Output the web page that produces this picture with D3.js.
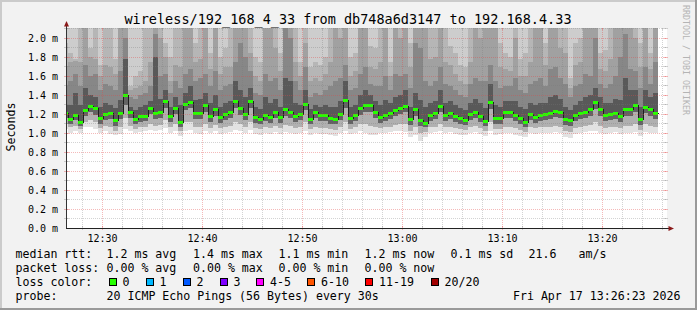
<!DOCTYPE html>
<html>
<head>
<meta charset="utf-8">
<title>wireless/192_168_4_33</title>
<script src="https://cdn.jsdelivr.net/npm/d3@7"></script>
<style>
  html, body { margin: 0; padding: 0; background: #f0f0f0; }
  svg { display: block; font-family: "DejaVu Sans Mono", monospace; }
</style>
</head>
<body>
<svg id="chart" width="697" height="310"></svg>
<script>
// ---- data (ms), one value per 30 s step, first step starts 12:26:00 ----
const median = [
  1.21,1.15,1.19,1.12,1.24,1.29,1.26,1.16,1.20,1.21,
  1.14,1.21,1.40,1.22,1.15,1.18,1.18,1.26,1.21,1.22,
  1.34,1.18,1.27,1.12,1.31,1.33,1.21,1.21,1.30,1.18,
  1.25,1.17,1.20,1.22,1.34,1.26,1.20,1.34,1.17,1.15,
  1.19,1.17,1.22,1.17,1.25,1.22,1.18,1.20,1.31,1.15,
  1.22,1.19,1.19,1.16,1.15,1.20,1.35,1.16,1.19,1.26,
  1.30,1.30,1.22,1.17,1.19,1.21,1.24,1.27,1.29,1.15,
  1.25,1.14,1.11,1.19,1.21,1.29,1.19,1.21,1.18,1.16,
  1.14,1.20,1.22,1.18,1.13,1.33,1.16,1.16,1.22,1.22,
  1.19,1.16,1.12,1.20,1.17,1.19,1.20,1.21,1.23,1.22,
  1.15,1.14,1.19,1.21,1.22,1.25,1.33,1.25,1.19,1.20,
  1.21,1.18,1.25,1.25,1.30,1.15,1.28,1.25,1.21
];
// upper edges of the smoke bands, outer (light) to inner (dark)
const smokeHiLight = [
  1.95,1.85,1.78,2.2,2.2,1.90,2.2,1.72,2.2,2.2,
  1.78,2.2,2.2,1.50,1.60,1.65,2.2,2.2,2.2,2.2,
  1.95,1.80,2.2,2.2,2.2,2.2,1.95,2.2,2.2,1.85,
  2.2,1.80,1.90,2.2,2.2,2.2,2.2,2.2,1.80,1.75,
  2.2,2.2,2.2,1.85,2.2,2.2,2.2,1.75,2.2,1.70,
  1.75,1.72,1.80,2.2,2.2,2.2,2.2,1.80,1.85,2.2,
  2.2,1.92,1.90,2.2,2.2,1.75,2.2,2.2,2.2,1.95,
  2.2,2.2,2.2,2.2,2.2,2.2,2.2,1.92,1.85,1.72,
  1.70,2.2,2.2,2.2,2.2,2.2,2.2,1.95,1.85,1.80,
  2.2,1.78,1.85,2.2,2.2,2.2,1.95,2.2,2.2,2.2,
  2.2,1.58,1.95,2.0,2.2,2.2,2.2,1.85,1.88,2.2,
  2.2,2.2,2.2,2.2,2.2,1.95,2.2,1.85,2.2
];
const smokeHiMid = [
  1.70,1.75,1.76,1.75,2.2,1.80,1.78,1.60,1.72,1.70,
  1.62,2.2,2.2,1.45,1.48,1.50,1.55,1.75,2.2,2.0,
  1.80,1.55,1.72,1.70,2.2,2.2,1.75,1.78,2.2,1.68,
  2.2,1.62,1.70,1.70,2.2,2.2,2.2,1.85,1.60,1.55,
  2.2,2.2,1.90,1.65,2.2,2.2,1.75,1.60,1.95,1.55,
  1.58,1.55,1.62,1.75,2.2,2.0,2.2,1.60,1.65,2.2,
  2.2,1.70,1.68,1.75,2.2,1.60,2.2,2.0,2.2,1.70,
  2.2,2.2,2.2,1.78,1.80,2.2,1.75,1.72,1.62,1.55,
  1.52,1.75,2.2,2.0,2.2,2.2,2.2,1.70,1.68,1.65,
  2.0,1.60,1.60,1.75,2.2,2.2,1.72,2.2,2.2,1.90,
  1.85,1.48,1.72,1.75,2.2,2.2,2.2,1.68,1.65,1.78,
  2.2,2.2,2.2,2.2,2.0,1.70,2.2,1.68,2.2
];
const smokeHiDark = [
  1.50,1.55,1.62,1.50,1.72,1.60,1.62,1.45,1.52,1.50,
  1.45,1.65,2.0,1.38,1.36,1.40,1.42,1.50,2.05,1.60,
  1.62,1.42,1.55,1.48,1.62,1.68,1.55,1.58,1.62,1.50,
  1.65,1.45,1.50,1.52,1.75,1.95,1.80,1.65,1.42,1.40,
  1.62,1.55,1.58,1.45,2.2,2.0,1.55,1.45,1.70,1.38,
  1.42,1.40,1.45,1.50,1.55,1.58,1.72,1.45,1.48,1.62,
  1.70,1.52,1.50,1.50,1.60,1.45,1.62,1.60,1.62,1.48,
  1.95,1.90,1.55,1.50,1.55,1.70,1.52,1.50,1.45,1.40,
  1.38,1.52,1.58,1.55,1.55,1.72,1.55,1.48,1.50,1.50,
  1.58,1.45,1.42,1.52,1.55,1.58,1.50,1.68,1.70,1.58,
  1.52,1.38,1.50,1.52,1.62,1.60,2.0,1.52,1.48,1.52,
  1.60,1.80,2.05,1.68,1.65,1.48,1.70,1.52,1.75
];
const smokeHiCore = [
  1.30,1.30,1.42,1.30,1.48,1.40,1.38,1.28,1.32,1.30,
  1.26,1.35,1.78,1.28,1.24,1.28,1.30,1.34,1.80,1.36,
  1.45,1.28,1.38,1.30,1.42,1.50,1.35,1.36,1.42,1.32,
  1.40,1.28,1.32,1.34,1.55,1.45,1.38,1.48,1.28,1.25,
  1.38,1.32,1.36,1.28,1.58,1.55,1.32,1.30,1.45,1.25,
  1.30,1.28,1.30,1.28,1.28,1.34,1.55,1.28,1.30,1.40,
  1.45,1.40,1.34,1.30,1.35,1.32,1.38,1.40,1.45,1.28,
  1.42,1.35,1.28,1.32,1.34,1.45,1.32,1.34,1.30,1.26,
  1.24,1.32,1.36,1.32,1.26,1.52,1.30,1.28,1.34,1.34,
  1.34,1.28,1.25,1.32,1.30,1.32,1.32,1.38,1.40,1.36,
  1.28,1.24,1.30,1.34,1.38,1.40,1.48,1.38,1.32,1.32,
  1.36,1.35,1.58,1.45,1.45,1.28,1.45,1.38,1.42
];
// lower edges of the smoke bands, inner (dark) to outer (light)
const smokeLoCore = [
  1.16,1.10,1.14,1.08,1.18,1.22,1.19,1.10,1.14,1.15,
  1.08,1.15,1.30,1.16,1.10,1.12,1.13,1.20,1.15,1.16,
  1.26,1.12,1.20,1.07,1.24,1.26,1.15,1.15,1.22,1.12,
  1.18,1.11,1.14,1.16,1.26,1.19,1.14,1.26,1.11,1.10,
  1.13,1.11,1.16,1.11,1.18,1.16,1.12,1.14,1.24,1.10,
  1.16,1.13,1.13,1.10,1.10,1.14,1.27,1.10,1.13,1.19,
  1.22,1.22,1.16,1.11,1.13,1.15,1.18,1.20,1.22,1.09,
  1.18,1.08,1.06,1.13,1.15,1.22,1.13,1.15,1.12,1.10,
  1.09,1.14,1.16,1.12,1.08,1.25,1.10,1.10,1.16,1.16,
  1.13,1.10,1.07,1.14,1.11,1.13,1.14,1.15,1.17,1.16,
  1.09,1.08,1.13,1.15,1.16,1.18,1.25,1.18,1.13,1.14,
  1.15,1.12,1.18,1.18,1.22,1.09,1.21,1.18,1.15
];
const smokeLoMid = [
  1.10,1.06,1.08,1.04,1.12,1.14,1.12,1.05,1.08,1.06,
  1.02,1.06,1.16,1.08,1.04,1.06,1.07,1.10,1.08,1.09,
  1.14,1.06,1.10,1.02,1.12,1.12,1.07,1.06,1.10,1.05,
  1.09,1.05,1.06,1.08,1.12,1.10,1.07,1.12,1.05,1.04,
  1.06,1.05,1.08,1.05,1.09,1.08,1.05,1.06,1.12,1.04,
  1.07,1.05,1.05,1.04,1.03,1.06,1.12,1.04,1.06,1.10,
  1.10,1.08,1.06,1.05,1.06,1.07,1.09,1.10,1.10,1.02,
  1.06,1.00,1.01,1.06,1.07,1.10,1.06,1.07,1.05,1.04,
  1.03,1.06,1.08,1.05,1.02,1.12,1.04,1.04,1.07,1.07,
  1.05,1.03,1.01,1.06,1.05,1.06,1.06,1.07,1.08,1.07,
  1.02,1.01,1.05,1.07,1.08,1.09,1.12,1.08,1.05,1.06,
  1.07,1.05,1.08,1.08,1.10,1.03,1.10,1.08,1.07
];
const smokeLo = [
  1.04,1.00,1.02,1.00,1.06,1.06,1.04,1.00,1.02,0.99,
  0.98,0.99,1.04,1.02,1.00,1.01,1.02,1.03,1.02,1.03,
  1.05,1.00,1.02,0.97,1.02,1.03,1.00,0.99,1.02,1.00,
  1.02,0.99,1.00,1.01,1.03,1.02,1.00,1.03,0.99,0.98,
  1.00,0.99,1.01,0.99,1.01,1.00,0.99,1.00,1.02,0.98,
  1.00,0.99,0.99,0.98,0.97,1.00,1.02,0.99,1.00,1.02,
  1.00,0.98,0.98,1.00,1.00,1.01,1.02,1.02,1.01,0.96,
  0.98,0.92,0.96,1.00,1.01,1.02,1.00,1.01,0.99,0.98,
  0.98,1.00,1.01,0.99,0.97,1.02,0.98,0.99,1.00,1.00,
  0.98,0.97,0.96,1.00,0.99,1.00,1.00,1.00,1.01,1.00,
  0.96,0.95,0.99,1.00,1.01,1.02,1.02,1.00,0.99,1.00,
  1.01,0.99,1.00,1.00,1.01,0.97,1.01,1.00,1.00
];

const yTickValues = [0, 0.2, 0.4, 0.6, 0.8, 1.0, 1.2, 1.4, 1.6, 1.8, 2.0];
const lossLabels = ['0', '1', '2', '3', '4-5', '6-10', '11-19', '20/20'];
const lossColors = ['#26ff00', '#00b8ff', '#0059ff', '#7e00ff', '#ff00ff', '#ff5500', '#ff0000', '#a10000'];
const rttStats = ['1.2 ms avg', '1.4 ms max', '1.1 ms min', '1.2 ms now', '0.1 ms sd', '21.6', 'am/s'];
const lossStats = ['0.00 % avg', '0.00 % max', '0.00 % min', '0.00 % now'];

const title = 'wireless/192_168_4_33 from db748a6d3147 to 192.168.4.33';
const probeText = '20 ICMP Echo Pings (56 Bytes) every 30s';
const stampText = 'Fri Apr 17 13:26:23 2026';

// ---- layout ----
const W = 697, H = 310;
const plot = { left: 67, right: 667, top: 28, bottom: 228 };
const stepStart = new Date(2026, 3, 17, 12, 26, 0);
const stepSeconds = 30;

const svg = d3.select('#chart');

const x = d3.scaleTime()
  .domain([new Date(2026, 3, 17, 12, 26, 26), new Date(2026, 3, 17, 13, 26, 26)])
  .range([plot.left, plot.right]);
const y = d3.scaleLinear()
  .domain([0, 2.1086])
  .range([plot.bottom, plot.top]);

const crisp = v => Math.floor(v) + 0.5;
const py = v => Math.round(y(Math.min(v, 2.2)));

// background + 3d frame
svg.append('rect').attr('width', W).attr('height', H).attr('fill', '#f2f2f2');
svg.append('rect').attr('x', 0).attr('y', 0).attr('width', W).attr('height', 2).attr('fill', '#cbcbcb');
svg.append('rect').attr('x', 0).attr('y', 0).attr('width', 2).attr('height', H).attr('fill', '#cbcbcb');
svg.append('rect').attr('x', 0).attr('y', H - 2).attr('width', W).attr('height', 2).attr('fill', '#9a9a9a');
svg.append('rect').attr('x', W - 2).attr('y', 0).attr('width', 2).attr('height', H).attr('fill', '#9a9a9a');

// canvas
svg.append('rect')
  .attr('x', plot.left).attr('y', plot.top)
  .attr('width', plot.right - plot.left).attr('height', plot.bottom - plot.top)
  .attr('fill', '#ffffff');

svg.append('clipPath').attr('id', 'clip')
  .append('rect')
  .attr('x', plot.left).attr('y', plot.top)
  .attr('width', plot.right - plot.left).attr('height', plot.bottom - plot.top);

const cols = median.map((m, i) => {
  const t0 = d3.timeSecond.offset(stepStart, i * stepSeconds);
  const t1 = d3.timeSecond.offset(stepStart, (i + 1) * stepSeconds);
  const x0 = Math.max(plot.left, Math.round(x(t0)));
  const x1 = Math.round(x(t1));
  return { i, x0, x1, med: m };
});

const data = svg.append('g').attr('clip-path', 'url(#clip)').attr('shape-rendering', 'crispEdges');

// smoke: upper part (median -> band top), lower part (band bottom -> median)
const upperBands = [
  { hi: null, fill: '#cdcdcd' },
  { hi: smokeHiLight, fill: '#b6b6b6' },
  { hi: smokeHiMid, fill: '#a1a1a1' },
  { hi: smokeHiDark, fill: '#878787' },
  { hi: smokeHiCore, fill: '#595959' }
];
const lowerBands = [
  { lo: smokeLo, fill: '#e2e2e2' },
  { lo: smokeLoMid, fill: '#b0b0b0' },
  { lo: smokeLoCore, fill: '#636363' }
];

upperBands.forEach((band) => {
  data.append('g').selectAll('rect')
    .data(cols)
    .join('rect')
    .attr('x', d => d.x0)
    .attr('width', d => d.x1 - d.x0)
    .attr('y', d => band.hi ? py(band.hi[d.i]) : plot.top)
    .attr('height', d => Math.max(0, py(d.med) - (band.hi ? py(band.hi[d.i]) : plot.top)))
    .attr('fill', band.fill);
});

lowerBands.forEach((band) => {
  data.append('g').selectAll('rect')
    .data(cols)
    .join('rect')
    .attr('x', d => d.x0)
    .attr('width', d => d.x1 - d.x0)
    .attr('y', d => py(d.med))
    .attr('height', d => Math.max(0, py(band.lo[d.i]) - py(d.med)))
    .attr('fill', band.fill);
});

// ---- grid ----
const grid = svg.append('g').attr('shape-rendering', 'crispEdges');
const minorY = d3.range(1, 22).map(k => k / 10).filter(v => y(v) >= plot.top);
const majorY = yTickValues.filter(v => v > 0);
const minorX = d3.timeMinute.every(2).range(x.domain()[0], x.domain()[1]);
const majorX = d3.timeMinute.every(10).range(x.domain()[0], x.domain()[1]);

function hLines (vals, color) {
  grid.append('g').selectAll('line')
    .data(vals)
    .join('line')
    .attr('x1', plot.left).attr('x2', plot.right)
    .attr('y1', d => crisp(y(d))).attr('y2', d => crisp(y(d)))
    .attr('stroke', color).attr('stroke-dasharray', '1,1');
  // solid stubs at both ends
  grid.append('g').selectAll('path')
    .data(vals)
    .join('path')
    .attr('d', d => `M${plot.left - 3},${crisp(y(d))}H${plot.left + 2}M${plot.right - 3},${crisp(y(d))}H${plot.right + 1}`)
    .attr('stroke', color);
}

function vLines (vals, color) {
  grid.append('g').selectAll('line')
    .data(vals)
    .join('line')
    .attr('x1', d => crisp(x(d))).attr('x2', d => crisp(x(d)))
    .attr('y1', plot.top).attr('y2', plot.bottom)
    .attr('stroke', color).attr('stroke-dasharray', '1,1');
  grid.append('g').selectAll('path')
    .data(vals)
    .join('path')
    .attr('d', d => `M${crisp(x(d))},${plot.bottom - 2}V${plot.bottom + 2}M${crisp(x(d))},${plot.top}V${plot.top + 2}`)
    .attr('stroke', color);
}

const minorColor = 'rgba(120,120,120,0.33)';
const majorColor = 'rgba(225,70,70,0.38)';
hLines(minorY.filter(v => !majorY.some(m => Math.abs(m - v) < 1e-6)), minorColor);
vLines(minorX.filter(t => t.getMinutes() % 10 !== 0), minorColor);
hLines(majorY, majorColor);
vLines(majorX, majorColor);

// ---- median line + loss colour marker ----
const stepLine = d3.line()
  .x(d => d[0] + 0.5)
  .y(d => d[1] + 0.5)
  .curve(d3.curveStepAfter);
const linePts = cols.map(d => [d.x0, py(d.med)]);
linePts.push([cols[cols.length - 1].x1, py(cols[cols.length - 1].med)]);

data.append('path')
  .attr('d', stepLine(linePts))
  .attr('fill', 'none')
  .attr('stroke', '#1e1e1e')
  .attr('stroke-width', 1);

data.append('g').selectAll('rect')
  .data(cols)
  .join('rect')
  .attr('x', d => d.x0)
  .attr('width', d => d.x1 - d.x0)
  .attr('y', d => py(d.med) - 1)
  .attr('height', 3)
  .attr('fill', lossColors[0]);

// ---- axes ----
const axis = svg.append('g').attr('shape-rendering', 'crispEdges');
axis.append('line')
  .attr('x1', 66.5).attr('x2', 66.5).attr('y1', plot.bottom + 0.5).attr('y2', 25)
  .attr('stroke', '#333');
axis.append('line')
  .attr('x1', 66).attr('x2', 670).attr('y1', plot.bottom + 0.5).attr('y2', plot.bottom + 0.5)
  .attr('stroke', '#222');
axis.append('path').attr('d', 'M64,26.5L66.5,21L69,26.5Z').attr('fill', '#8b1a1a').attr('shape-rendering', 'auto');
axis.append('path').attr('d', 'M668.5,226L674,228.5L668.5,231Z').attr('fill', '#8b1a1a').attr('shape-rendering', 'auto');

const fmtY = d3.format('.1f');
svg.append('g').selectAll('text')
  .data(yTickValues)
  .join('text')
  .attr('x', 58)
  .attr('y', d => crisp(y(d)) + 3.5)
  .attr('text-anchor', 'end')
  .attr('font-size', '10px')
  .attr('fill', '#000')
  .text(d => `${fmtY(d)} m`);

svg.append('g').selectAll('text')
  .data(majorX)
  .join('text')
  .attr('x', d => crisp(x(d)))
  .attr('y', 241.5)
  .attr('text-anchor', 'middle')
  .attr('font-size', '10px')
  .attr('fill', '#000')
  .text(d3.timeFormat('%H:%M'));

// title, unit, watermark
svg.append('text')
  .attr('x', 348).attr('y', 24)
  .attr('text-anchor', 'middle')
  .attr('font-size', '13.5px')
  .text(title);

svg.append('text')
  .attr('transform', 'translate(15,127) rotate(-90)')
  .attr('text-anchor', 'middle')
  .attr('font-size', '11.6px')
  .text('Seconds');

svg.append('text')
  .attr('transform', 'translate(683,5) rotate(90)')
  .attr('font-size', '8.3px')
  .attr('fill', '#b4b4b4')
  .text('RRDTOOL / TOBI OETIKER');

// ---- legend ----
const legend = svg.append('g').attr('font-size', '11.6px').attr('fill', '#000');
const rowY = [258, 272, 286, 300];
const statX = [106.5, 193, 278.5, 364.5, 450.5, 528.5, 578.5];

legend.append('text').attr('x', 15.5).attr('y', rowY[0]).text('median rtt:');
legend.selectAll('.rtt').data(rttStats).join('text')
  .attr('class', 'rtt')
  .attr('x', (d, i) => statX[i]).attr('y', rowY[0]).text(d => d);

legend.append('text').attr('x', 15.5).attr('y', rowY[1]).text('packet loss:');
legend.selectAll('.loss').data(lossStats).join('text')
  .attr('class', 'loss')
  .attr('x', (d, i) => statX[i]).attr('y', rowY[1]).text(d => d);

legend.append('text').attr('x', 15.5).attr('y', rowY[2]).text('loss color:');
const boxX = [108.5, 145.5, 182.5, 219.5, 256, 307, 365, 430.5];
const lossItem = legend.selectAll('.lc').data(lossLabels).join('g')
  .attr('class', 'lc')
  .attr('transform', (d, i) => `translate(${boxX[i]},0)`);
lossItem.append('rect')
  .attr('x', 0.5).attr('y', rowY[2] - 7.5)
  .attr('width', 7).attr('height', 7)
  .attr('fill', (d, i) => lossColors[i])
  .attr('stroke', '#000')
  .attr('shape-rendering', 'crispEdges');
lossItem.append('text')
  .attr('x', 14).attr('y', rowY[2])
  .text(d => d);

legend.append('text').attr('x', 15.5).attr('y', rowY[3]).text('probe:');
legend.append('text').attr('x', 106.5).attr('y', rowY[3]).text(probeText);
legend.append('text').attr('x', 680.5).attr('y', rowY[3]).attr('text-anchor', 'end').text(stampText);
</script>
</body>
</html>
